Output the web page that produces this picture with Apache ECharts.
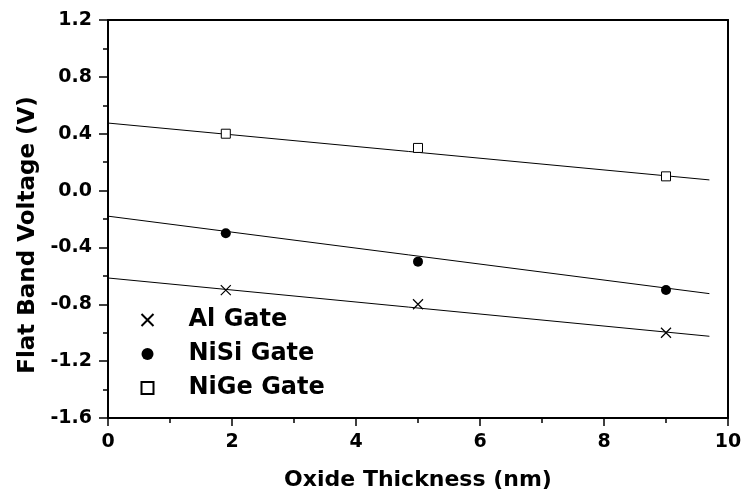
<!DOCTYPE html>
<html>
<head>
<meta charset="utf-8">
<script src="https://cdn.jsdelivr.net/npm/echarts@6/dist/echarts.min.js"></script>
<style>html,body{margin:0;padding:0;background:#fff}#c{width:745px;height:500px}</style>
</head>
<body>
<div id="c"></div>
<script>
const thickness = [1.9, 5, 9];
const alGate = [-0.7, -0.8, -1.0];
const nisiGate = [-0.3, -0.5, -0.7];
const nigeGate = [0.4, 0.3, 0.1];
const fitX = [0, 9.7];
const alFit = [-0.615, -1.025];
const nisiFit = [-0.18, -0.725];
const nigeFit = [0.475, 0.075];
const seriesNames = ['Al Gate', 'NiSi Gate', 'NiGe Gate'];
const xTitle = 'Oxide Thickness (nm)';
const yTitle = 'Flat Band Voltage (V)';

const FONT = 'DejaVu Sans';
const pairs = (xs, ys) => xs.map((x, i) => [x, ys[i]]);
const crossPath = 'path://M0,0L10,10M0,10L10,0';

const chart = echarts.init(document.getElementById('c'), null, {renderer: 'canvas'});
const axisLine = {show: true, onZero: false, lineStyle: {color: '#000', width: 2}};
const fitLine = (name, ys) => ({
  name: name, type: 'line', data: pairs(fitX, ys), symbol: 'none', silent: true,
  lineStyle: {color: '#000', width: 1}, z: 1
});
chart.setOption({
  animation: false,
  backgroundColor: '#fff',
  grid: {left: 108, right: 17, top: 20, bottom: 82, containLabel: false},
  xAxis: [{
    type: 'value', min: 0, max: 10, interval: 2,
    name: xTitle, nameLocation: 'middle', nameGap: 51,
    nameTextStyle: {fontFamily: FONT, fontWeight: 'bold', fontSize: 22, color: '#000'},
    axisLine: axisLine,
    axisTick: {show: true, inside: false, length: 8, lineStyle: {color: '#000', width: 1.5}},
    minorTick: {show: true, splitNumber: 2, length: 5, lineStyle: {color: '#000', width: 1.5}},
    axisLabel: {fontFamily: FONT, fontWeight: 'bold', fontSize: 19, color: '#000', margin: 15},
    splitLine: {show: false}
  }, {
    type: 'value', min: 0, max: 10, interval: 2, position: 'top',
    axisLine: axisLine, axisTick: {show: false}, axisLabel: {show: false}, splitLine: {show: false}
  }],
  yAxis: [{
    type: 'value', min: -1.6, max: 1.2, interval: 0.4,
    name: yTitle, nameLocation: 'middle', nameGap: 64,
    nameTextStyle: {fontFamily: FONT, fontWeight: 'bold', fontSize: 23, color: '#000', padding: [0, 32, 0, 0]},
    axisLine: axisLine,
    axisTick: {show: true, inside: false, length: 9, lineStyle: {color: '#000', width: 1.5}},
    minorTick: {show: true, splitNumber: 2, length: 5, lineStyle: {color: '#000', width: 1.5}},
    axisLabel: {fontFamily: FONT, fontWeight: 'bold', fontSize: 19, color: '#000', margin: 16,
      formatter: v => v.toFixed(1)},
    splitLine: {show: false}
  }, {
    type: 'value', min: -1.6, max: 1.2, interval: 0.4, position: 'right',
    axisLine: axisLine, axisTick: {show: false}, axisLabel: {show: false}, splitLine: {show: false}
  }],
  legend: {
    orient: 'vertical', left: 134, top: 303,
    itemWidth: 12, itemHeight: 12, itemGap: 10,
    data: seriesNames,
    textStyle: {fontFamily: FONT, fontWeight: 'bold', fontSize: 24, color: '#000', lineHeight: 24,
      padding: [0, 0, 0, 30]}
  },
  series: [
    fitLine('fitAl', alFit),
    fitLine('fitNiSi', nisiFit),
    fitLine('fitNiGe', nigeFit),
    {name: seriesNames[0], type: 'scatter', data: pairs(thickness, alGate),
      symbol: crossPath, symbolSize: 10, z: 3,
      itemStyle: {color: 'none', borderColor: '#000', borderWidth: 1.2, opacity: 1}},
    {name: seriesNames[1], type: 'scatter', data: pairs(thickness, nisiGate),
      symbol: 'circle', symbolSize: 10, z: 3,
      itemStyle: {color: '#000', opacity: 1}},
    {name: seriesNames[2], type: 'scatter', data: pairs(thickness, nigeGate),
      symbol: 'rect', symbolSize: 9, z: 3,
      itemStyle: {color: '#fff', borderColor: '#000', borderWidth: 1, opacity: 1}}
  ]
});
</script>
</body>
</html>
